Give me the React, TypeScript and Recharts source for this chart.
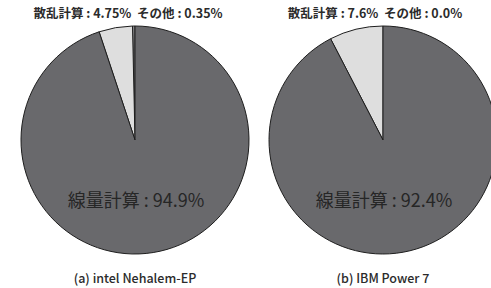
import { Cell, Pie, PieChart } from "recharts";

const segments = ["その他", "散乱計算", "線量計算"];
const nehalemValues = [0.35, 4.75, 94.9];
const powerValues = [0.0, 7.6, 92.4];
const nehalemLabels = ["0.35%", "4.75%", "94.9%"];
const powerLabels = ["0.0%", "7.6%", "92.4%"];
const captions = ["(a) intel Nehalem-EP", "(b) IBM Power 7"];

const FILLS = ["#8c8c8e", "#dedede", "#69696c"];
const FONT = "'Noto Sans CJK JP', 'Noto Sans', sans-serif";

const toRows = (values: number[]) =>
  segments.map((name, i) => ({ name, value: values[i] }));

const charts = [
  { cx: 135, rows: toRows(nehalemValues), labels: nehalemLabels, caption: captions[0], dx: -7 },
  { cx: 383, rows: toRows(powerValues), labels: powerLabels, caption: captions[1], dx: -8 },
];

export default function App() {
  return (
    <div
      style={{
        position: "absolute",
        left: 0,
        top: 0,
        width: 491,
        height: 288,
        background: "#fff",
        overflow: "hidden",
        fontFamily: FONT,
      }}
    >
      <PieChart width={491} height={288} margin={{ top: 0, right: 0, bottom: 0, left: 0 }}>
        {charts.map((c, k) => (
          <Pie
            key={k}
            data={c.rows}
            dataKey="value"
            nameKey="name"
            cx={c.cx}
            cy={140}
            outerRadius={114}
            startAngle={90}
            endAngle={450}
            stroke="#1e1e1e"
            strokeWidth={1}
            isAnimationActive={false}
          >
            {c.rows.map((r, i) => (
              <Cell key={r.name} fill={FILLS[i]} />
            ))}
          </Pie>
        ))}
      </PieChart>
      {charts.map((c, k) => (
        <div key={k}>
          <div
            style={{
              position: "absolute",
              left: c.cx - 150 + c.dx,
              width: 300,
              top: 3,
              textAlign: "center",
              fontSize: 12.5,
              fontWeight: 700,
              color: "#2b2b2b",
              whiteSpace: "pre",
            }}
          >
            {`${segments[1]} : ${c.labels[1]}  ${segments[0]} : ${c.labels[0]}`}
          </div>
          <div
            style={{
              position: "absolute",
              left: c.cx - 150 + 1,
              width: 300,
              top: 186,
              textAlign: "center",
              fontSize: 18,
              color: "#262626",
              whiteSpace: "pre",
            }}
          >
            {`${segments[2]} : ${c.labels[2]}`}
          </div>
          <div
            style={{
              position: "absolute",
              left: c.cx - 150,
              width: 300,
              top: 268,
              textAlign: "center",
              fontSize: 12.5,
              fontWeight: 500,
              color: "#2b2b2b",
              whiteSpace: "pre",
            }}
          >
            {c.caption}
          </div>
        </div>
      ))}
    </div>
  );
}
